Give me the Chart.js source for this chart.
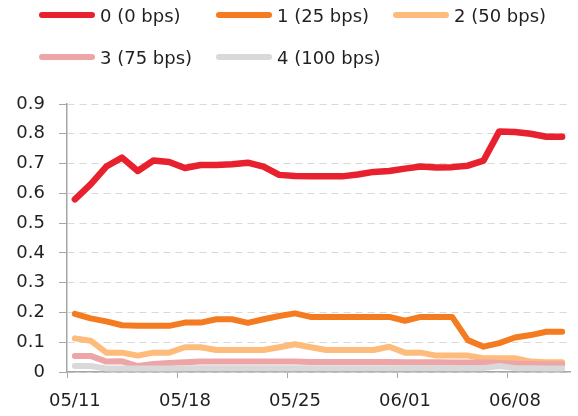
<!DOCTYPE html>
<html>
<head>
<meta charset="utf-8">
<script src="https://cdn.jsdelivr.net/npm/chart.js@4"></script>
<style>
  body { margin: 0; background: #fff; }
  #wrap { position: relative; width: 578px; height: 416px; }
  #legend { position: absolute; left: 39px; top: 0; width: 539px; z-index: 2;
            font-family: "DejaVu Sans", sans-serif; font-size: 18px; color: #231f20; }
  .item { position: absolute; top: 0; height: 24px; display: flex; align-items: center; white-space: nowrap; }
  .swatch { width: 56px; height: 6px; border-radius: 3px; margin-right: 5px; }
</style>
</head>
<body>
<div id="wrap">
  <div id="legend"></div>
  <canvas id="chart" width="578" height="416"></canvas>
</div>
<script>
var dates = ["05/11","05/12","05/13","05/14","05/15","05/16","05/17","05/18","05/19","05/20",
             "05/21","05/22","05/23","05/24","05/25","05/26","05/27","05/28","05/29","05/30",
             "05/31","06/01","06/02","06/03","06/04","06/05","06/06","06/07","06/08","06/09",
             "06/10","06/11"];

var seriesNames = ["0 (0 bps)", "1 (25 bps)", "2 (50 bps)", "3 (75 bps)", "4 (100 bps)"];
var seriesColors = ["#e8212f", "#f47b20", "#fdbb7c", "#eda5a7", "#d9d9d9"];

var hike0 = [0.58, 0.63, 0.69, 0.72, 0.675, 0.71, 0.705, 0.685, 0.695, 0.695,
             0.698, 0.703, 0.69, 0.662, 0.658, 0.657, 0.657, 0.657, 0.663, 0.672,
             0.675, 0.683, 0.69, 0.687, 0.688, 0.693, 0.71, 0.808, 0.806, 0.80,
             0.79, 0.79];
var hike25 = [0.195, 0.18, 0.17, 0.157, 0.155, 0.155, 0.155, 0.166, 0.166, 0.177,
              0.177, 0.165, 0.177, 0.188, 0.197, 0.185, 0.185, 0.185, 0.185, 0.185,
              0.185, 0.172, 0.185, 0.185, 0.185, 0.107, 0.085, 0.097, 0.116, 0.124,
              0.135, 0.135];
var hike50 = [0.113, 0.105, 0.065, 0.065, 0.055, 0.065, 0.065, 0.083, 0.083, 0.074,
              0.074, 0.074, 0.074, 0.083, 0.093, 0.083, 0.074, 0.074, 0.074, 0.074,
              0.085, 0.065, 0.065, 0.055, 0.055, 0.055, 0.046, 0.046, 0.046, 0.035,
              0.033, 0.033];
var hike75 = [0.054, 0.054, 0.035, 0.036, 0.02, 0.027, 0.03, 0.033, 0.035, 0.035,
              0.035, 0.035, 0.035, 0.035, 0.035, 0.034, 0.034, 0.034, 0.034, 0.034,
              0.034, 0.033, 0.033, 0.033, 0.032, 0.032, 0.032, 0.03, 0.028, 0.027,
              0.026, 0.026];
var hike100 = [0.02, 0.02, 0.012, 0.012, 0.012, 0.012, 0.012, 0.013, 0.013, 0.013,
               0.013, 0.013, 0.013, 0.013, 0.013, 0.013, 0.013, 0.013, 0.013, 0.013,
               0.013, 0.013, 0.013, 0.013, 0.013, 0.013, 0.013, 0.02, 0.013, 0.013,
               0.012, 0.012];

var allSeries = [hike0, hike25, hike50, hike75, hike100];
var widths = [6.5, 6, 6, 6, 6];

// legend laid out in fixed columns, two rows
var legend = document.getElementById("legend");
var rowTops = [3, 45];
for (let i = 0; i < seriesNames.length; i++) {
    var item = document.createElement("div");
    item.className = "item";
    item.style.top = rowTops[Math.floor(i / 3)] + "px";
    item.style.left = ((i % 3) * 177) + "px";
    item.innerHTML = `<div class="swatch" style="background:${seriesColors[i]}"></div><span>${seriesNames[i]}</span>`;
    legend.appendChild(item);
}

var datasets = [];
for (let i = 0; i < allSeries.length; i++) {
    datasets.push({
        label: seriesNames[i],
        data: allSeries[i],
        borderColor: seriesColors[i],
        backgroundColor: seriesColors[i],
        borderWidth: widths[i],
        pointRadius: 0,
        borderCapStyle: "round",
        borderJoinStyle: "round",
        tension: 0,
        order: allSeries.length - i
    });
}

var font = { family: "DejaVu Sans", size: 18 };

new Chart(document.getElementById("chart"), {
    type: "line",
    data: { labels: dates, datasets: datasets },
    options: {
        responsive: false,
        animation: false,
        layout: { padding: { top: 104, right: 8, bottom: 0, left: 0 } },
        plugins: { legend: { display: false }, tooltip: { enabled: false } },
        scales: {
            x: {
                offset: true,
                grid: {
                    offset: true,
                    drawOnChartArea: false,
                    drawTicks: true,
                    tickLength: 6,
                    tickColor: ctx => (ctx.index !== undefined && ctx.index % 7 === 0) ? "#a6a6a6" : "rgba(0,0,0,0)"
                },
                border: { color: "#a6a6a6", width: 1.5 },
                ticks: {
                    autoSkip: false,
                    maxRotation: 0,
                    padding: 13,
                    color: "#231f20",
                    font: font,
                    callback: (v, i) => i % 7 === 0 ? dates[i] : ""
                },
                afterFit: s => { s.height = 44; }
            },
            y: {
                min: 0,
                max: 0.9,
                ticks: {
                    stepSize: 0.1,
                    padding: 14,
                    color: "#231f20",
                    font: font,
                    callback: v => Math.abs(v) < 1e-9 ? "0" : v.toFixed(1)
                },
                grid: { color: "#d9d9d9", lineWidth: 1, tickLength: 8, tickColor: "#a6a6a6" },
                border: { color: "#a6a6a6", width: 1.5, dash: [7, 5] },
                afterFit: s => { s.width = 67; }
            }
        }
    }
});
</script>
</body>
</html>
